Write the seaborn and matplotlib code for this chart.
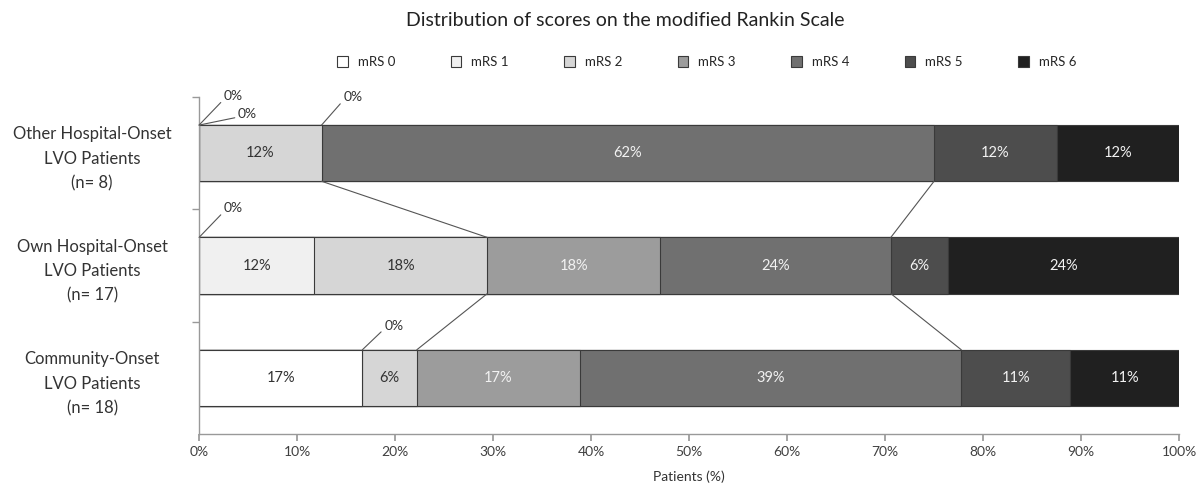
import numpy as np
import pandas as pd
import seaborn as sns
import matplotlib.pyplot as plt
from matplotlib.patches import Patch
from matplotlib.transforms import ScaledTranslation

# Data: number of patients per mRS score in each group
groups = ["Other Hospital-Onset\nLVO Patients\n(n= 8)",
          "Own Hospital-Onset\nLVO Patients\n(n= 17)",
          "Community-Onset\nLVO Patients\n(n= 18)"]
scores = ["mRS 0", "mRS 1", "mRS 2", "mRS 3", "mRS 4", "mRS 5", "mRS 6"]
other_counts = [0, 0, 1, 0, 5, 1, 1]
own_counts = [0, 2, 3, 3, 4, 1, 4]
community_counts = [3, 0, 1, 3, 7, 2, 2]

colors = ["#ffffff", "#f0f0f0", "#d6d6d6", "#9c9c9c", "#707070", "#4d4d4d", "#202020"]
label_colors = ["#333333", "#333333", "#333333", "#f2f2f2", "#f2f2f2", "#f2f2f2", "#f2f2f2"]

sns.set_theme(style="white")
plt.rcParams["font.family"] = ["Lato", "DejaVu Sans"]

counts = np.array([other_counts, own_counts, community_counts], dtype=float)
pct = counts / counts.sum(axis=1, keepdims=True) * 100
cum = np.cumsum(pct, axis=1)

df = pd.DataFrame(cum, columns=scores)
df["group"] = groups

fig = plt.figure(figsize=(12.02, 4.87), dpi=100)
ax = fig.add_axes([0.1656, 0.1088, 0.8153, 0.692])

# stacked bars: draw cumulative totals from the largest down
for i in range(len(scores) - 1, -1, -1):
    sns.barplot(data=df, x=scores[i], y="group", order=groups, orient="h",
                color=colors[i], edgecolor="#3a3a3a", linewidth=0.8,
                width=0.5, saturation=1, ax=ax)

# percentage labels inside segments
for r in range(len(groups)):
    for i in range(len(scores)):
        if pct[r, i] > 0:
            ax.text(cum[r, i] - pct[r, i] / 2, r, f"{pct[r, i]:.0f}%",
                    ha="center", va="center", fontsize=10.5, color=label_colors[i])

# connector lines between bars (after mRS 2 and after mRS 4)
for r in range(len(groups) - 1):
    for k in [2, 4]:
        ax.plot([cum[r, k], cum[r + 1, k]], [r + 0.25, r + 0.75],
                color="#555555", lw=0.8, zorder=1)

# leader lines for the 0% segments
zero_offsets = {(0, 0): (25, 29), (0, 1): (39, 11), (0, 3): (22, 28),
                (1, 0): (25, 29), (2, 1): (22, 24)}
for (r, i), off in zero_offsets.items():
    start = cum[r, i] - pct[r, i]
    ax.annotate("0%", xy=(start, r - 0.25), xytext=off, textcoords="offset pixels",
                ha="left", va="center", fontsize=10, color="#333333",
                annotation_clip=False,
                arrowprops=dict(arrowstyle="-", color="#555555", lw=0.8,
                                shrinkA=0, shrinkB=0, relpos=(0, 0.25)))

# axes styling
ax.set_xlim(0, 100)
ax.set_ylim(2.5, -0.5)
ax.set_xticks(range(0, 101, 10))
ax.set_xticklabels([f"{t}%" for t in range(0, 101, 10)], fontsize=10, color="#404040")
ax.set_xlabel("Patients (%)", fontsize=10, color="#333333", labelpad=9)
ax.set_ylabel("")
ax.set_yticks(range(len(groups)))
ax.set_yticklabels(groups, fontsize=12, color="#333333", ha="center",
                   linespacing=1.65)
# nudge the group labels slightly down
for lbl in ax.get_yticklabels():
    lbl.set_transform(lbl.get_transform() + ScaledTranslation(0, -4 / 72, fig.dpi_scale_trans))
ax.tick_params(axis="y", length=0, pad=77)
ax.set_yticks([-0.5, 0.5, 1.5], minor=True)
ax.tick_params(axis="y", which="minor", length=5, color="#999999", direction="out", left=True)
ax.tick_params(axis="x", length=5, color="#999999", direction="out", bottom=True)
for s in ["top", "right"]:
    ax.spines[s].set_visible(False)
for s in ["left", "bottom"]:
    ax.spines[s].set_color("#999999")
    ax.spines[s].set_linewidth(1)

# legend
handles = [Patch(facecolor=c, edgecolor="#3a3a3a", linewidth=0.8) for c in colors]
fig.legend(handles, scores, loc="center", bbox_to_anchor=(0.588, 0.873), ncol=7,
           frameon=False, fontsize=9.5, handlelength=0.8, handleheight=1.0,
           handletextpad=0.76, columnspacing=4.2)

fig.suptitle("Distribution of scores on the modified Rankin Scale", x=0.52, y=0.957,
             va="center", fontsize=14, color="#222222")

plt.savefig("out.png", dpi=100)
